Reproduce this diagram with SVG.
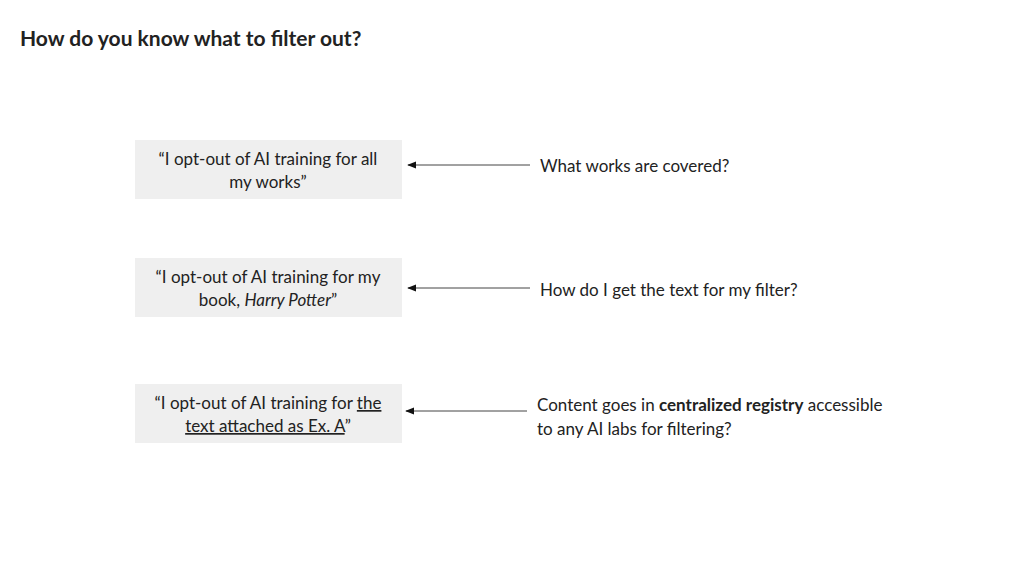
<svg xmlns="http://www.w3.org/2000/svg" width="1024" height="576" viewBox="0 0 1024 576">
<style>
text{font-family:Lato,"Open Sans",sans-serif;fill:#222;font-size:17px}
.box{fill:#efefef}
.t{font-size:21px;font-weight:bold}
.c{text-anchor:middle}
line{stroke:#444;stroke-width:1}
</style>
<defs><marker id="a" viewBox="0 0 10 10" refX="9" refY="5" markerWidth="9" markerHeight="9" orient="auto"><path d="M0,1 L10,5 L0,9 z" fill="#111"/></marker></defs>
<rect width="1024" height="576" fill="#fff"/>
<text class="t" x="20" y="46">How do you know what to filter out?</text>
<g id="n1"><rect class="box" x="135" y="140" width="267" height="59"/>
<text class="c" x="268" y="165">“I opt-out of AI training for all</text><text class="c" x="268" y="188">my works”</text></g>
<g id="n2"><rect class="box" x="135" y="258" width="267" height="59"/>
<text class="c" x="268" y="283">“I opt-out of AI training for my</text><text class="c" x="268" y="306">book, <tspan font-style="italic">Harry Potter</tspan>”</text></g>
<g id="n3"><rect class="box" x="135" y="384" width="267" height="59"/>
<text class="c" x="268" y="409">“I opt-out of AI training for <tspan text-decoration="underline">the</tspan></text><text class="c" x="268" y="432"><tspan text-decoration="underline">text attached as Ex. A</tspan>”</text></g>
<g id="q1"><text x="540" y="172">What works are covered?</text></g>
<g id="q2"><text x="540" y="296">How do I get the text for my filter?</text></g>
<g id="q3"><text x="537" y="411">Content goes in <tspan font-weight="bold">centralized registry</tspan> accessible</text><text x="537" y="435">to any AI labs for filtering?</text></g>
<g id="connectors">
<line x1="530" y1="165" x2="408" y2="165" marker-end="url(#a)"/>
<line x1="530" y1="288" x2="408" y2="288" marker-end="url(#a)"/>
<line x1="527" y1="411" x2="406" y2="411" marker-end="url(#a)"/>
</g>
</svg>
